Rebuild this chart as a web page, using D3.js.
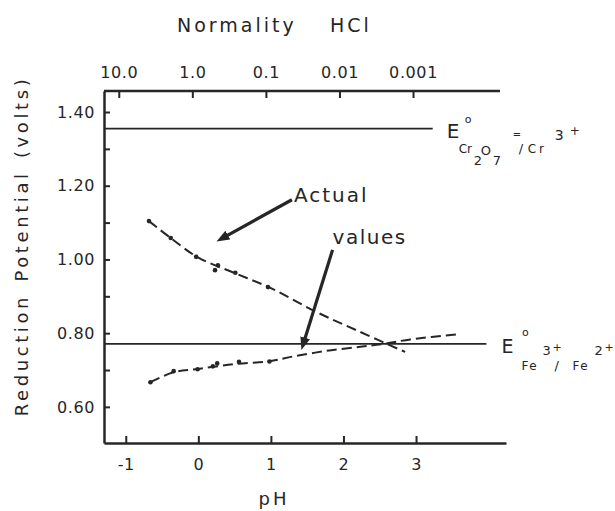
<!DOCTYPE html>
<html>
<head>
<meta charset="utf-8">
<script src="https://cdn.jsdelivr.net/npm/d3@7"></script>
<style>
    body { margin: 0; background: #fff; }
    svg { display: block; font-family: 'DejaVu Sans', sans-serif; }
</style>
</head>
<body>
<svg id="chart" width="615" height="511"></svg>
<script>
const width = 615;
const height = 511;
const ink = '#262626';

// Axis ticks
const phTicks = [-1, 0, 1, 2, 3];
const normalityTicks = [10, 1, 0.1, 0.01, 0.001];
const normalityLabels = ['10.0', '1.0', '0.1', '0.01', '0.001'];
const potentialTicks = [0.6, 0.7, 0.8, 0.9, 1.0, 1.1, 1.2, 1.3, 1.4];
const potentialLabels = [0.6, 0.8, 1.0, 1.2, 1.4];

const crPH = [-0.68, -0.38, -0.03, 0.27, 0.23, 0.51, 0.96];
const crE  = [1.104, 1.058, 1.007, 0.984, 0.971, 0.964, 0.925];
const fePH = [-0.66, -0.34, -0.01, 0.20, 0.26, 0.56, 0.98];
const feE  = [0.667, 0.697, 0.702, 0.710, 0.718, 0.722, 0.723];

// Dashed curves drawn through the points
const crCurvePH = [-0.68, -0.38, 0, 0.5, 1.0, 1.6, 2.2, 2.85];
const crCurveE  = [1.104, 1.058, 1.005, 0.963, 0.922, 0.860, 0.806, 0.749];
const feCurvePH = [-0.66, -0.34, 0, 0.5, 0.98, 1.31, 1.77, 2.23, 2.55, 2.92, 3.58];
const feCurveE  = [0.667, 0.694, 0.703, 0.716, 0.724, 0.737, 0.752, 0.763, 0.771, 0.783, 0.797];

// Standard potentials: value and pH where the drawn line stops
const eCr = 1.355, eCrEnd = 3.23;
const eFe = 0.771, eFeEnd = 3.97;

// Annotation arrows [pH, E] from -> to
const actualArrow = [[1.29, 1.162], [0.25, 1.049]];
const valuesArrow = [[1.85, 1.026], [1.42, 0.754]];

const x = d3.scaleLinear().domain([-1.3, 4.24]).range([104, 506]);
const y = d3.scaleLinear().domain([0.502, 1.457]).range([443, 91]);
const xTop = d3.scaleLog().domain([10, 0.001]).range([x(-1) - 7, x(3) - 3]);

const svg = d3.select('#chart');

function styleAxis(g) {
    g.attr('font-family', "'DejaVu Sans', sans-serif")
     .attr('font-size', 16);
    g.selectAll('.domain').attr('stroke', ink).attr('stroke-width', 2.5);
    g.selectAll('.tick line').attr('stroke', ink).attr('stroke-width', 2);
    g.selectAll('.tick text').attr('fill', ink).attr('letter-spacing', 0.6);
}

// Left axis
svg.append('g')
   .attr('transform', 'translate(' + x.range()[0] + ',0)')
   .call(d3.axisLeft(y)
           .tickValues(potentialTicks)
           .tickSizeInner(-6)
           .tickSizeOuter(0)
           .tickPadding(9)
           .tickFormat(function(d) {
               return potentialLabels.includes(d) ? d3.format('.2f')(d) : '';
           }))
   .call(styleAxis);

// Bottom axis
svg.append('g')
   .attr('transform', 'translate(0,' + y.range()[0] + ')')
   .call(d3.axisBottom(x)
           .tickValues(phTicks)
           .tickSizeInner(-7)
           .tickSizeOuter(0)
           .tickPadding(16)
           .tickFormat(function(d) { return String(d); }))
   .call(styleAxis);

// Top axis (normality, log scale)
svg.append('g')
   .attr('transform', 'translate(0,' + y.range()[1] + ')')
   .call(d3.axisTop(xTop)
           .tickValues(normalityTicks)
           .tickSizeInner(-7)
           .tickSizeOuter(0)
           .tickPadding(13)
           .tickFormat(function(d, i) {
               return normalityLabels[i];
           }))
   .call(styleAxis)
   .call(function(g) { g.select('.domain').remove(); });

svg.append('line')
   .attr('x1', x.range()[0])
   .attr('x2', x.range()[1] - 6)
   .attr('y1', y.range()[1])
   .attr('y2', y.range()[1])
   .attr('stroke', ink)
   .attr('stroke-width', 2.5);

// Standard potential lines
svg.selectAll('.ref')
   .data([[eCr, eCrEnd], [eFe, eFeEnd]])
   .join('line')
   .attr('class', 'ref')
   .attr('x1', x.range()[0])
   .attr('x2', function(d) { return x(d[1]); })
   .attr('y1', function(d) { return y(d[0]); })
   .attr('y2', function(d) { return y(d[0]); })
   .attr('stroke', ink)
   .attr('stroke-width', 1.6);

// Dashed curves
const line = d3.line()
               .x(function(d) { return x(d[0]); })
               .y(function(d) { return y(d[1]); })
               .curve(d3.curveCatmullRom);

svg.selectAll('.curve')
   .data([d3.zip(crCurvePH, crCurveE), d3.zip(feCurvePH, feCurveE)])
   .join('path')
   .attr('class', 'curve')
   .attr('d', line)
   .attr('fill', 'none')
   .attr('stroke', ink)
   .attr('stroke-width', 2)
   .attr('stroke-dasharray', '10,5');

// Points
svg.selectAll('.pt')
   .data(d3.zip(crPH, crE).concat(d3.zip(fePH, feE)))
   .join('circle')
   .attr('class', 'pt')
   .attr('cx', function(d) { return x(d[0]); })
   .attr('cy', function(d) { return y(d[1]); })
   .attr('r', 2.3)
   .attr('fill', ink);

// Arrows
svg.append('defs')
   .append('marker')
   .attr('id', 'head')
   .attr('markerUnits', 'userSpaceOnUse')
   .attr('markerWidth', 14)
   .attr('markerHeight', 10)
   .attr('refX', 3)
   .attr('refY', 5)
   .attr('orient', 'auto')
   .append('path')
   .attr('d', 'M0,0 L13,5 L0,10 z')
   .attr('fill', ink);

svg.selectAll('.arrow')
   .data([actualArrow, valuesArrow])
   .join('line')
   .attr('class', 'arrow')
   .each(function(d) {
       const x1 = x(d[0][0]), y1 = y(d[0][1]);
       const x2 = x(d[1][0]), y2 = y(d[1][1]);
       const len = Math.hypot(x2 - x1, y2 - y1);
       const k = (len - 10) / len;
       d3.select(this)
         .attr('x1', x1).attr('y1', y1)
         .attr('x2', x1 + (x2 - x1) * k)
         .attr('y2', y1 + (y2 - y1) * k);
   })
   .attr('stroke', ink)
   .attr('stroke-width', 3.2)
   .attr('marker-end', 'url(#head)');

// Arrow labels
svg.append('text')
   .attr('x', x(actualArrow[0][0]) + 2)
   .attr('y', y(actualArrow[0][1]) + 2)
   .attr('font-size', 20)
   .attr('letter-spacing', 2)
   .attr('fill', ink)
   .text('Actual');

svg.append('text')
   .attr('x', x(valuesArrow[0][0]))
   .attr('y', y(valuesArrow[0][1]) - 6)
   .attr('font-size', 20)
   .attr('letter-spacing', 1.5)
   .attr('fill', ink)
   .text('values');

// Labels for the standard potentials: [text, dx, dy, size, spacing]
const crLabel = [['E', 14, 9.5, 20, 0], ['o', 32, -5.5, 11, 0], ['Cr', 26, 24.5, 12, 0],
                 ['2', 41, 36.5, 13, 0], ['O', 48, 26.5, 13, 0], ['7', 60, 36.5, 13, 0],
                 ['=', 80, 9.5, 10, 0], ['/', 86, 24.5, 13, 0], ['Cr', 95, 24.5, 12, 3],
                 ['3', 122, 11.5, 14, 0], ['+', 137, 6, 12, 0]];
const feLabel = [['E', 15, 9.2, 19, 0], ['o', 35.5, -8, 11, 0], ['Fe', 35, 26.2, 12, 1.5],
                 ['3', 56, 11.2, 13, 0], ['+', 66, 7, 11, 0], ['/', 68, 26.2, 13, 0],
                 ['Fe', 86, 26.2, 12, 1.5], ['2', 108, 11.2, 13, 0], ['+', 118, 7, 11, 0]];

function drawLabel(parts, px, py) {
    svg.append('g')
       .attr('transform', 'translate(' + px + ',' + py + ')')
       .selectAll('text')
       .data(parts)
       .join('text')
       .attr('x', function(d) { return d[1]; })
       .attr('y', function(d) { return d[2]; })
       .attr('font-size', function(d) { return d[3]; })
       .attr('letter-spacing', function(d) { return d[4]; })
       .attr('fill', ink)
       .text(function(d) { return d[0]; });
}

drawLabel(crLabel, x(eCrEnd), y(eCr));
drawLabel(feLabel, x(eFeEnd), y(eFe));

// Axis titles
svg.append('text')
   .attr('x', 177)
   .attr('y', 32)
   .attr('font-size', 19)
   .attr('letter-spacing', 3)
   .attr('fill', ink)
   .text('Normality');

svg.append('text')
   .attr('x', 330)
   .attr('y', 32)
   .attr('font-size', 19)
   .attr('letter-spacing', 3)
   .attr('fill', ink)
   .text('HCl');

svg.append('text')
   .attr('x', 274)
   .attr('y', 505)
   .attr('text-anchor', 'middle')
   .attr('font-size', 18)
   .attr('letter-spacing', 3)
   .attr('fill', ink)
   .text('pH');

svg.append('text')
   .attr('transform', 'translate(28,' + 246 + ') rotate(-90)')
   .attr('text-anchor', 'middle')
   .attr('font-size', 18)
   .attr('letter-spacing', 3.6)
   .attr('word-spacing', 3)
   .attr('fill', ink)
   .text('Reduction Potential (volts)');
</script>
</body>
</html>
